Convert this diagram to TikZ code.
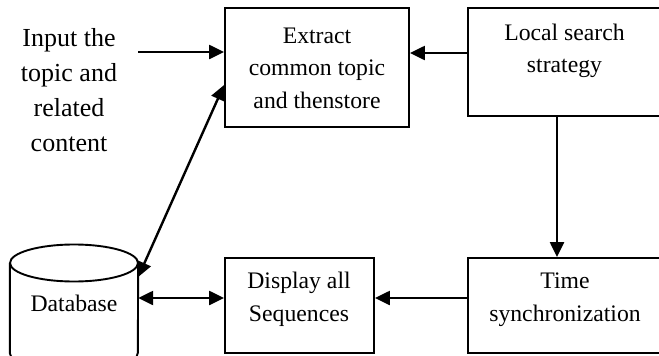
\documentclass[tikz,border=0pt]{standalone}
\usepackage{fontspec}
\setmainfont{Liberation Serif}
\usetikzlibrary{arrows.meta}
\tikzset{
  box/.style={draw, line width=1.9pt, inner sep=0pt},
  boxtext/.style={align=center, inner sep=0pt, font=\fontsize{23.7}{32.5}\selectfont},
  intext/.style={align=center, inner sep=0pt, font=\fontsize{26}{35}\selectfont},
  arr/.style={line width=2.4pt, -{Triangle[length=15pt,width=14pt]}},
  darr/.style={line width=2.4pt, {Triangle[length=15pt,width=14pt]}-{Triangle[length=15pt,width=14pt]}}
}
\begin{document}
\begin{tikzpicture}[x=1pt,y=-1pt]
\useasboundingbox (0,0) rectangle (659,356);
\clip (0,0) rectangle (659,356);

% process boxes
\node[box, minimum width=184pt, minimum height=119pt] (ext) at (317,67.5) {};
\node[box, minimum width=204pt, minimum height=108pt] (ls) at (570,62) {};
\node[box, minimum width=204pt, minimum height=95pt] (ts) at (570,305.5) {};
\node[box, minimum width=149pt, minimum height=95pt] (disp) at (299.5,305.5) {};

% database cylinder
\node[inner sep=0pt, minimum width=128pt, minimum height=126pt] (db) at (74,308) {};
\draw[line width=1.9pt] (db.west |- 0,263) -- (db.west |- 0,353)
  arc[start angle=180, end angle=360, x radius=64pt, y radius=18.5pt]
  -- (db.east |- 0,263);
\draw[line width=1.9pt] (74,263) ellipse[x radius=64pt, y radius=18.5pt];

% texts
\node[boxtext] (extt) at (317,68) {Extract\\common topic\\and thenstore};
\node[boxtext] (lst) at (564.5,51) {Local search\\strategy};
\node[boxtext] (tst) at (565,299.5) {Time\\synchronization};
\node[boxtext] (dispt) at (299,299.5) {Display all\\Sequences};
\node[boxtext] (dbt) at (74,303) {Database};
\node[intext] (inp) at (69,90.5) {Input the\\topic and\\related\\content};

% connectors
\coordinate (inend) at (138,52);
\draw[arr] (inend) -- (ext.west |- inend);
\draw[arr] (ls.west |- 0,53) -- (ext.east |- 0,53);
\draw[arr] (ls.south -| 557,0) -- (ts.north -| 557,0);
\draw[arr] (ts.west |- 0,298) -- (disp.east |- 0,298);
\draw[darr] (db.east |- 0,298) -- (disp.west |- 0,298);
\draw[darr] (db.east |- 0,277) -- (ext.west |- 0,85);
\end{tikzpicture}
\end{document}
